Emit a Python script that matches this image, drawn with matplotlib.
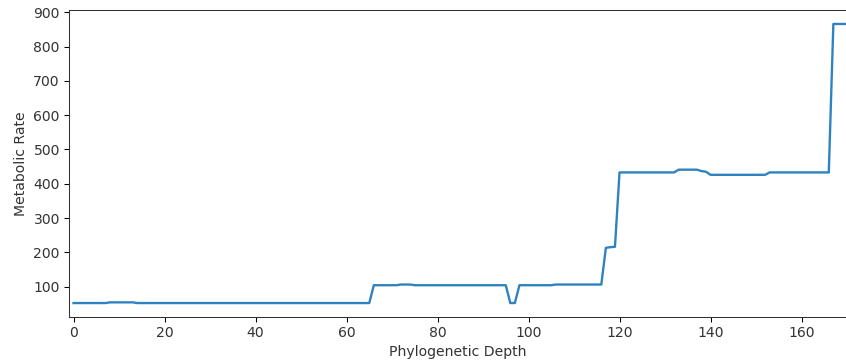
import matplotlib
matplotlib.use("Agg")
import matplotlib.pyplot as plt

# vertices of the metabolic-rate curve (straight segments in between)
depth = [0, 7, 8, 13, 14, 65, 66, 71, 72, 74, 75, 95, 96, 97, 98, 105, 106,
         116, 117, 118, 119, 120, 132, 133, 137, 138, 139, 140, 152, 153,
         166, 167, 170]
rate = [52, 52, 54, 54, 52, 52, 104, 104, 106, 106, 104, 104, 52, 52, 104, 104, 106,
        106, 213, 215, 216, 433, 433, 441, 441, 437, 435, 426, 426, 433,
        433, 866, 866]

DPI = 94
FS = 10.7
fig = plt.figure(figsize=(846 / DPI, 363 / DPI), dpi=DPI)
ax = fig.add_axes([69 / 846, 46 / 363, 778 / 846, 307 / 363])
ax.plot(depth, rate, color="#2f82c0", linewidth=1.8)

ax.set_xlim(-1, 170)
ax.set_xlabel("Phylogenetic Depth", fontsize=FS, color="#333333")
ax.set_ylabel("Metabolic Rate", fontsize=FS, color="#333333")
ax.tick_params(labelsize=FS, labelcolor="#333333")
for spine in ax.spines.values():
    spine.set_color("#333333")

fig.savefig("out.png", dpi=DPI)
